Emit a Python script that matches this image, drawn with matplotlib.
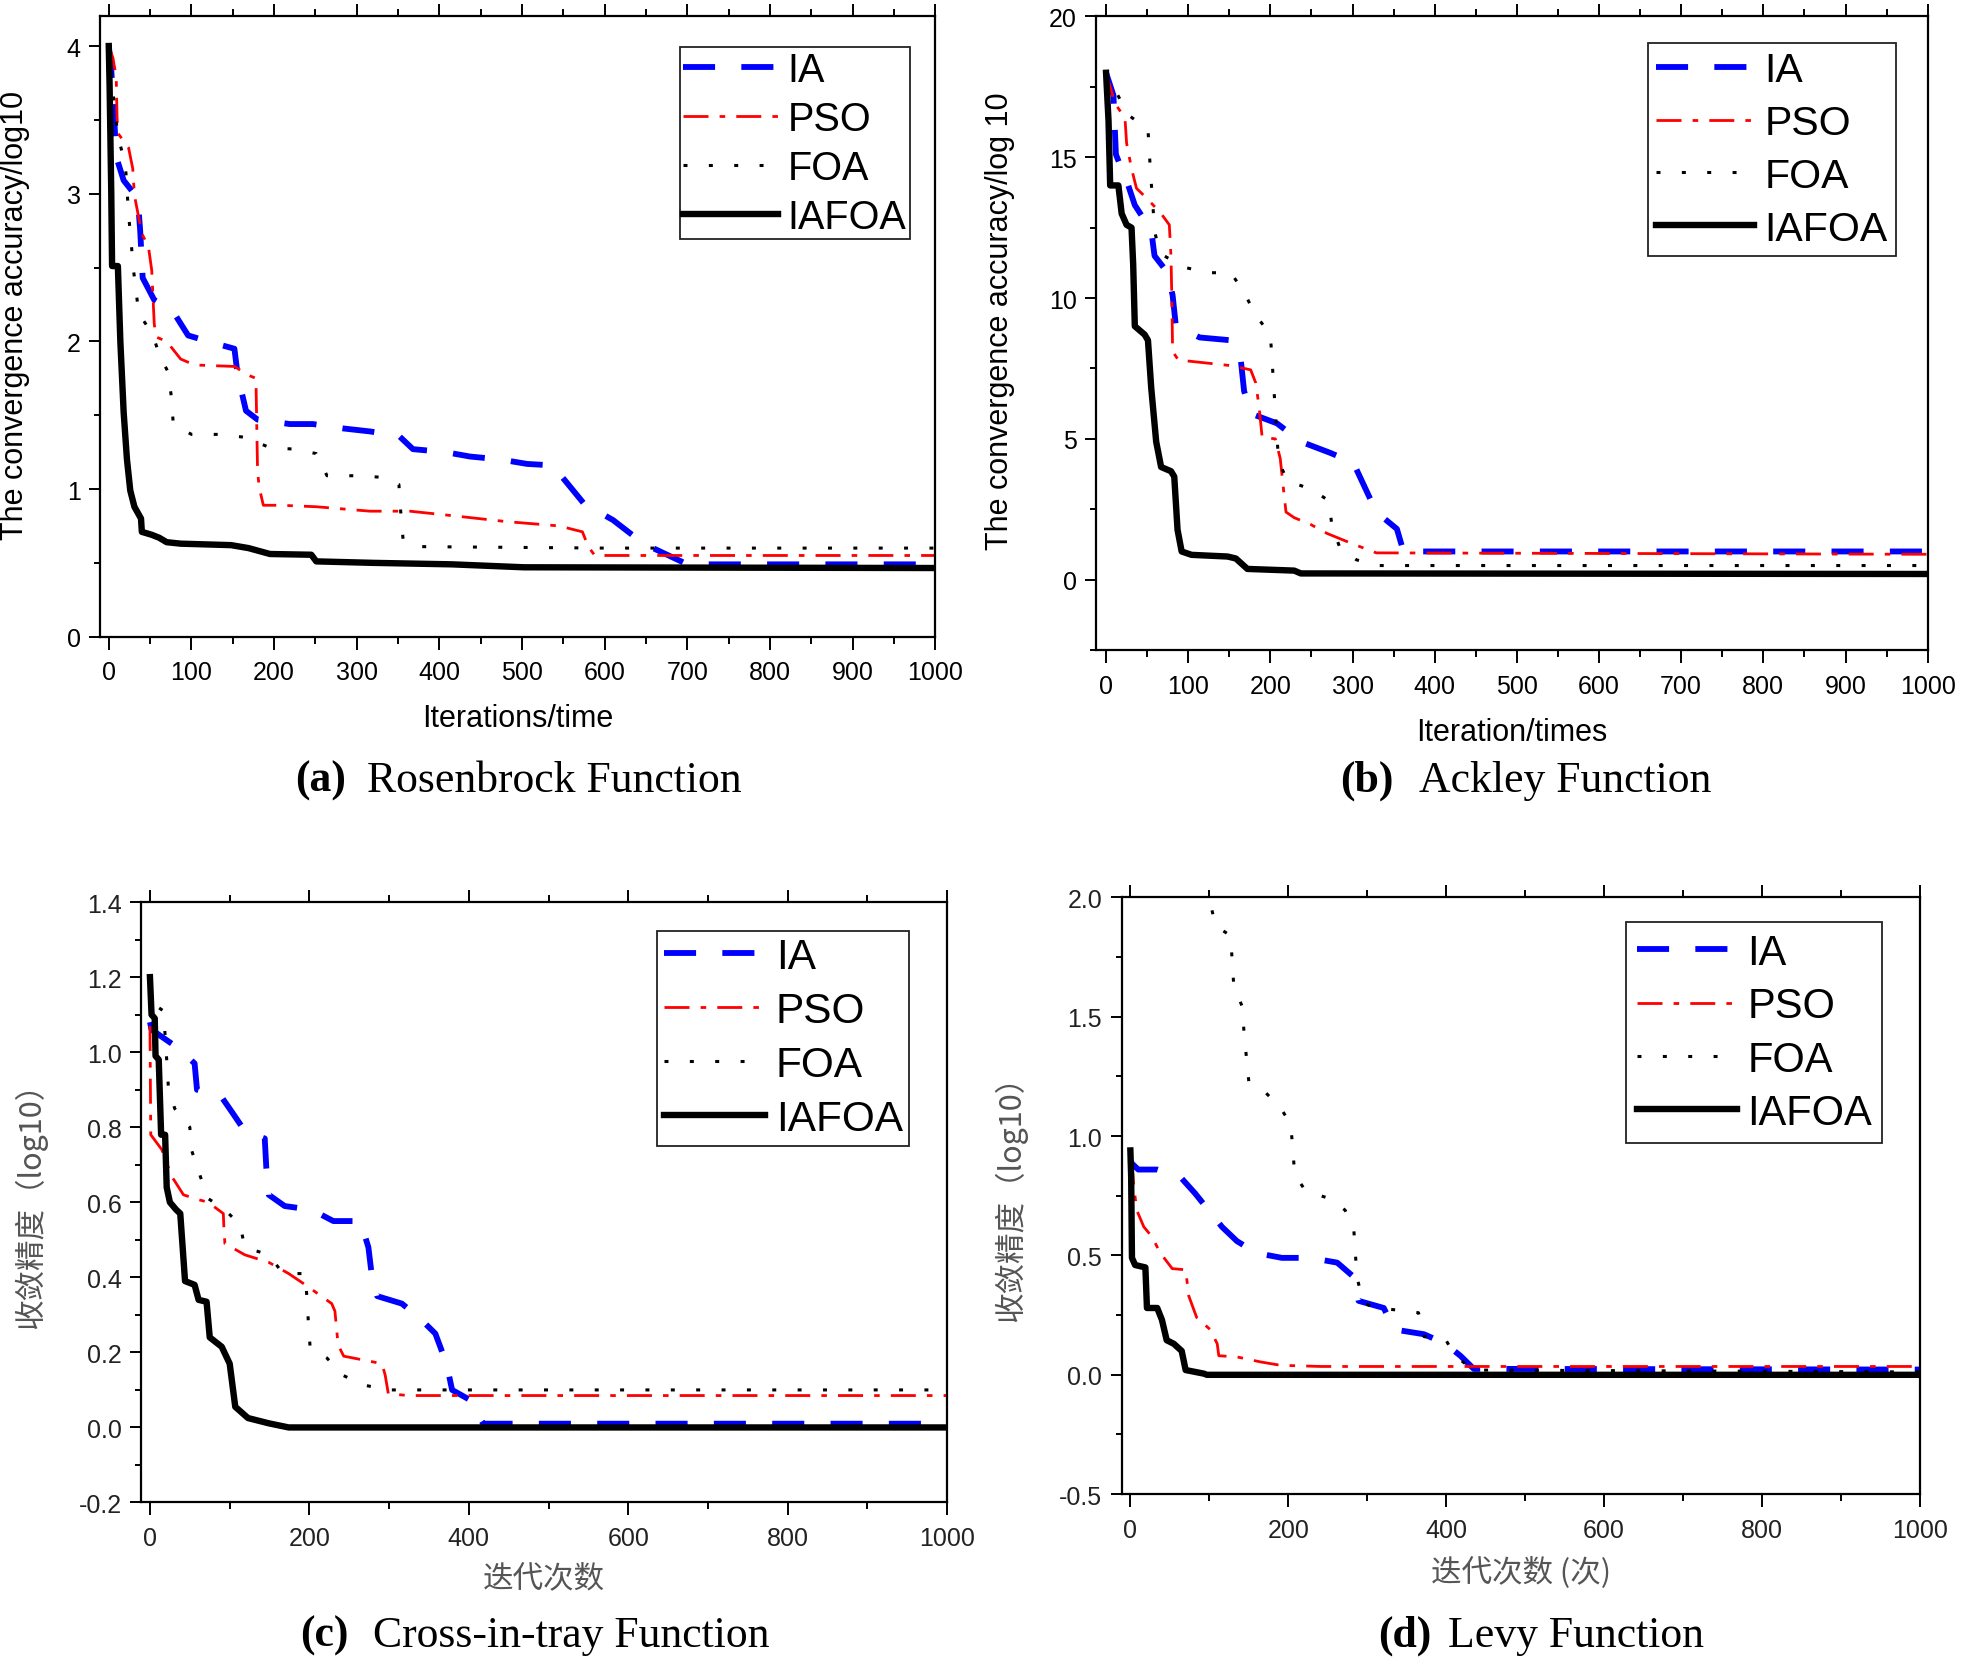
import matplotlib.pyplot as plt
from matplotlib.ticker import MultipleLocator, FormatStrFormatter

plt.rcParams['font.family'] = ['Liberation Sans', 'DejaVu Sans']

names = ["IA", "PSO", "FOA", "IAFOA"]

# (a) Rosenbrock
a_ia_x = [0, 3, 7, 9, 18, 35, 38, 41, 55, 78, 96, 126, 152, 156, 166, 180, 219, 247, 284, 316, 351, 368,
          407, 437, 474, 506, 537, 575, 610, 647, 700, 1000]
a_ia_y = [4.0, 3.84, 3.47, 3.25, 3.09, 2.97, 2.75, 2.43, 2.28, 2.2, 2.04, 1.99, 1.95, 1.77, 1.53, 1.47,
          1.44, 1.44, 1.41, 1.39, 1.36, 1.27, 1.25, 1.22, 1.2, 1.17, 1.16, 0.9, 0.79, 0.63, 0.49, 0.49]
a_pso_x = [0, 5, 9, 10, 11, 24, 29, 31, 40, 48, 52, 55, 57, 70, 87, 104, 152, 169, 178, 180, 182, 187,
           208, 251, 316, 364, 415, 480, 545, 573, 580, 588, 1000]
a_pso_y = [4.0, 3.92, 3.79, 3.52, 3.41, 3.31, 3.17, 2.99, 2.73, 2.64, 2.48, 2.12, 2.03, 2.0, 1.88, 1.84,
           1.83, 1.77, 1.75, 1.12, 1.01, 0.89, 0.89, 0.88, 0.85, 0.85, 0.82, 0.78, 0.75, 0.71, 0.61, 0.55, 0.55]
a_foa_x = [0, 3, 11, 20, 22, 24, 27, 29, 33, 36, 53, 61, 72, 76, 78, 100, 135, 165, 195, 225, 251, 264,
           299, 329, 351, 353, 356, 374, 600, 1000]
a_foa_y = [4.0, 3.79, 3.39, 3.2, 3.04, 2.85, 2.69, 2.52, 2.35, 2.19, 2.05, 1.91, 1.79, 1.61, 1.44, 1.37,
           1.37, 1.35, 1.28, 1.27, 1.24, 1.09, 1.09, 1.08, 1.03, 0.86, 0.66, 0.61, 0.6, 0.6]
a_iafoa_x = [0, 1, 3, 4, 11, 14, 18, 22, 26, 31, 39, 40, 52, 61, 70, 87, 148, 169, 195, 245, 251, 320,
             415, 502, 1000]
a_iafoa_y = [4.0, 3.73, 3.01, 2.51, 2.51, 2.0, 1.52, 1.2, 0.99, 0.88, 0.8, 0.71, 0.69, 0.67, 0.64, 0.63,
             0.62, 0.6, 0.56, 0.555, 0.51, 0.5, 0.49, 0.47, 0.465]

# (b) Ackley
b_ia_x = [0, 9, 12, 27, 35, 55, 59, 75, 81, 85, 114, 152, 164, 168, 176, 208, 237, 273, 301, 329, 354,
          362, 1000]
b_ia_y = [18.0, 17.2, 15.1, 14.0, 13.3, 12.4, 11.5, 10.9, 10.1, 9.0, 8.6, 8.5, 7.8, 6.7, 5.9, 5.55, 4.9,
          4.5, 4.15, 2.4, 1.8, 1.0, 1.0]
b_pso_x = [0, 11, 23, 25, 31, 37, 51, 67, 77, 79, 80, 81, 88, 120, 152, 176, 182, 186, 190, 206, 212,
           216, 219, 229, 249, 269, 301, 329, 1000]
b_pso_y = [18.0, 16.9, 16.4, 15.5, 14.6, 13.9, 13.5, 13.0, 12.6, 11.5, 10.1, 8.1, 7.8, 7.7, 7.6, 7.45,
           7.0, 6.2, 5.05, 5.0, 4.3, 3.2, 2.4, 2.2, 1.96, 1.64, 1.26, 0.95, 0.9]
b_foa_x = [0, 27, 51, 53, 55, 57, 59, 65, 94, 124, 152, 168, 182, 200, 202, 204, 206, 208, 210, 221,
           251, 271, 275, 285, 305, 333, 1000]
b_foa_y = [18.0, 16.5, 16.0, 15.0, 14.1, 13.3, 12.4, 11.6, 11.1, 10.9, 10.9, 10.2, 9.4, 8.7, 7.8, 6.9,
           6.0, 5.1, 4.2, 3.5, 3.2, 2.8, 1.9, 1.1, 0.7, 0.5, 0.5]
b_iafoa_x = [0, 3, 5, 15, 19, 25, 31, 33, 35, 47, 51, 55, 61, 67, 79, 83, 87, 92, 104, 148, 158, 172,
             229, 237, 1000]
b_iafoa_y = [18.0, 16.3, 14.0, 14.0, 13.0, 12.6, 12.5, 11.2, 9.0, 8.7, 8.5, 6.8, 4.9, 4.0, 3.85, 3.66,
             1.77, 1.0, 0.88, 0.82, 0.75, 0.38, 0.32, 0.22, 0.2]

# (c) Cross-in-tray
c_ia_x = [0, 2, 36, 56, 59, 90, 103, 119, 144, 146, 149, 169, 203, 230, 264, 274, 278, 285, 316, 339,
          358, 372, 379, 400, 418, 1000]
c_ia_y = [1.08, 1.06, 1.01, 0.97, 0.9, 0.88, 0.84, 0.79, 0.77, 0.69, 0.62, 0.59, 0.58, 0.55, 0.55, 0.48,
          0.41, 0.35, 0.33, 0.29, 0.25, 0.17, 0.1, 0.075, 0.01, 0.01]
c_pso_x = [0, 1, 15, 27, 42, 56, 73, 92, 93, 94, 119, 149, 174, 195, 228, 232, 236, 243, 291, 295, 299,
           324, 1000]
c_pso_y = [1.07, 0.78, 0.74, 0.67, 0.62, 0.61, 0.6, 0.57, 0.52, 0.49, 0.46, 0.44, 0.41, 0.38, 0.33, 0.31,
           0.22, 0.19, 0.17, 0.14, 0.09, 0.085, 0.085]
c_foa_x = [0, 10, 17, 21, 23, 31, 50, 52, 63, 73, 94, 113, 119, 149, 167, 195, 197, 199, 201, 222, 241,
           268, 299, 330, 1000]
c_foa_y = [1.18, 1.12, 1.11, 0.98, 0.91, 0.85, 0.8, 0.74, 0.67, 0.61, 0.58, 0.54, 0.48, 0.46, 0.41, 0.41,
           0.34, 0.27, 0.21, 0.185, 0.14, 0.113, 0.1, 0.1, 0.1]
c_iafoa_x = [0, 2, 6, 7, 11, 14, 19, 21, 25, 33, 38, 44, 56, 61, 71, 75, 90, 100, 107, 123, 149, 174, 1000]
c_iafoa_y = [1.2, 1.1, 1.09, 0.99, 0.98, 0.78, 0.78, 0.64, 0.6, 0.58, 0.57, 0.39, 0.38, 0.34, 0.335, 0.24,
             0.215, 0.17, 0.055, 0.025, 0.011, 0.0, 0.0]

# (d) Levy
d_ia_x = [0, 2, 10, 34, 63, 82, 99, 116, 135, 160, 192, 228, 262, 283, 289, 321, 334, 372, 399, 418, 435, 1000]
d_ia_y = [0.9, 0.885, 0.86, 0.86, 0.83, 0.76, 0.69, 0.62, 0.56, 0.51, 0.49, 0.49, 0.47, 0.41, 0.31, 0.28,
          0.19, 0.17, 0.13, 0.08, 0.025, 0.022]
d_pso_x = [0, 2, 4, 8, 17, 27, 38, 53, 70, 74, 84, 101, 110, 112, 135, 165, 190, 241, 1000]
d_pso_y = [0.9, 0.885, 0.8, 0.69, 0.62, 0.58, 0.51, 0.445, 0.44, 0.33, 0.24, 0.19, 0.13, 0.08, 0.075,
           0.054, 0.04, 0.035, 0.035]
d_foa_x = [97, 101, 108, 127, 129, 131, 142, 144, 147, 150, 169, 190, 203, 206, 208, 222, 251, 272, 283,
           285, 287, 295, 313, 342, 365, 372, 399, 411, 435, 1000]
d_foa_y = [2.05, 1.98, 1.88, 1.84, 1.73, 1.63, 1.54, 1.43, 1.33, 1.23, 1.19, 1.12, 1.05, 0.94, 0.84, 0.77,
           0.74, 0.69, 0.61, 0.51, 0.41, 0.3, 0.28, 0.27, 0.26, 0.16, 0.15, 0.08, 0.02, 0.012]
d_iafoa_x = [0, 1, 2, 6, 19, 21, 34, 40, 46, 55, 65, 70, 93, 97, 1000]
d_iafoa_y = [0.94, 0.83, 0.49, 0.46, 0.45, 0.28, 0.28, 0.23, 0.145, 0.13, 0.1, 0.02, 0.005, 0.0, 0.0]

styles = [
    dict(color='#0000ff', lw=4.2, dashes=(5.5, 4.5)),
    dict(color='#ff0000', lw=2.0, dashes=(9, 4, 2, 4)),
    dict(color='black', lw=2.2, dashes=(1.3, 7)),
    dict(color='black', lw=4.6, ls='-'),
]

fig = plt.figure(figsize=(19.61, 16.65), dpi=100)


def draw_panel(rect, series, xlim, ylim, xmaj, xmin, ymaj, ymin, yfmt, tick_color,
               leg_anchor, leg_size, leg_space, leg_pad):
    ax = fig.add_axes(rect)
    for (xs, ys), st, nm in zip(series, styles, names):
        ax.plot(xs, ys, label=nm, **st)
    ax.set_xlim(*xlim)
    ax.set_ylim(*ylim)
    ax.xaxis.set_major_locator(MultipleLocator(xmaj))
    ax.xaxis.set_minor_locator(MultipleLocator(xmin))
    ax.yaxis.set_major_locator(MultipleLocator(ymaj))
    ax.yaxis.set_minor_locator(MultipleLocator(ymin))
    if yfmt:
        ax.yaxis.set_major_formatter(FormatStrFormatter(yfmt))
    for s in ax.spines.values():
        s.set_linewidth(1.6)
    ax.tick_params(axis='x', which='both', direction='out', top=True, bottom=True,
                   labelsize=18, labelcolor=tick_color, width=1.4)
    ax.tick_params(axis='x', which='major', length=9, pad=8)
    ax.tick_params(axis='x', which='minor', length=5)
    ax.tick_params(axis='y', which='both', direction='out', left=True, right=False,
                   labelsize=18, labelcolor=tick_color, width=1.4)
    ax.tick_params(axis='y', which='major', length=8, pad=6)
    ax.tick_params(axis='y', which='minor', length=4)
    leg = ax.legend(loc='upper right', bbox_to_anchor=leg_anchor, fontsize=leg_size,
                    handlelength=2.4, handletextpad=0.25, labelspacing=leg_space,
                    borderpad=leg_pad, borderaxespad=0, fancybox=False, framealpha=1)
    leg.get_frame().set_edgecolor('#222222')
    leg.get_frame().set_linewidth(1.3)
    return ax


ax_a = draw_panel([0.051, 0.617, 0.426, 0.3725], [(a_ia_x, a_ia_y), (a_pso_x, a_pso_y),
                  (a_foa_x, a_foa_y), (a_iafoa_x, a_iafoa_y)], (-10.6, 1000), (0, 4.2),
                  100, 50, 1, 0.5, None, 'black', (0.969, 0.950), 28.5, 0.28, 0.08)
ax_a.set_xlabel('Iterations/time', fontsize=22)
ax_a.xaxis.set_label_coords(0.5, -0.131)
ax_a.xaxis.label.set_va('center')
ax_a.set_ylabel('The convergence accuracy/log10', fontsize=22)
ax_a.yaxis.set_label_coords(-0.102, 0.52)
ax_a.yaxis.label.set_va('center')

ax_b = draw_panel([0.559, 0.609, 0.424, 0.3805], [(b_ia_x, b_ia_y), (b_pso_x, b_pso_y),
                  (b_foa_x, b_foa_y), (b_iafoa_x, b_iafoa_y)], (-12, 1000), (-2.5, 20),
                  100, 50, 5, 2.5, None, 'black', (0.962, 0.958), 29.5, 0.36, 0.2)
ax_b.set_xlabel('Iteration/times', fontsize=22)
ax_b.xaxis.set_label_coords(0.5, -0.130)
ax_b.xaxis.label.set_va('center')
ax_b.set_ylabel('The convergence accuracy/log 10', fontsize=22)
ax_b.yaxis.set_label_coords(-0.116, 0.52)
ax_b.yaxis.label.set_va('center')

cjk = ['Noto Sans CJK SC', 'DejaVu Sans']

ax_c = draw_panel([0.072, 0.097, 0.411, 0.3606], [(c_ia_x, c_ia_y), (c_pso_x, c_pso_y),
                  (c_foa_x, c_foa_y), (c_iafoa_x, c_iafoa_y)], (-11, 1000), (-0.2, 1.4),
                  200, 100, 0.2, 0.1, '%.1f', '#222222', (0.953, 0.952), 30.5, 0.33, 0.15)
ax_c.set_xlabel('迭代次数', fontsize=22, family=cjk, color='#555555')
ax_c.xaxis.set_label_coords(0.5, -0.125)
ax_c.xaxis.label.set_va('center')
ax_c.set_ylabel('收敛精度（log10）', fontsize=22, family=cjk, color='#555555')
ax_c.yaxis.set_label_coords(-0.137, 0.508)
ax_c.yaxis.label.set_va('center')

ax_d = draw_panel([0.572, 0.102, 0.407, 0.3584], [(d_ia_x, d_ia_y), (d_pso_x, d_pso_y),
                  (d_foa_x, d_foa_y), (d_iafoa_x, d_iafoa_y)], (-11, 1000), (-0.5, 2.0),
                  200, 100, 0.5, 0.25, '%.1f', '#222222', (0.953, 0.958), 30, 0.32, 0.25)
ax_d.set_xlabel('迭代次数 (次)', fontsize=22, family=cjk, color='#555555')
ax_d.xaxis.set_label_coords(0.5, -0.128)
ax_d.xaxis.label.set_va('center')
ax_d.set_ylabel('收敛精度（log10）', fontsize=22, family=cjk, color='#555555')
ax_d.yaxis.set_label_coords(-0.139, 0.509)
ax_d.yaxis.label.set_va('center')

# captions
serif = 'Liberation Serif'
captions = [("(a)", "Rosenbrock Function", 0.1766, 0.1874, 0.531),
            ("(b)", "Ackley Function", 0.7104, 0.7238, 0.531),
            ("(c)", "Cross-in-tray Function", 0.1778, 0.1900, 0.0173),
            ("(d)", "Levy Function", 0.7301, 0.7384, 0.0173)]
for tag, title, xr, xl, yc in captions:
    fig.text(xr, yc, tag, ha='right', va='center', fontsize=31.5, fontweight='bold', family=serif)
    fig.text(xl, yc, title, ha='left', va='center', fontsize=31.5, family=serif)

fig.savefig('out.png', dpi=100)
